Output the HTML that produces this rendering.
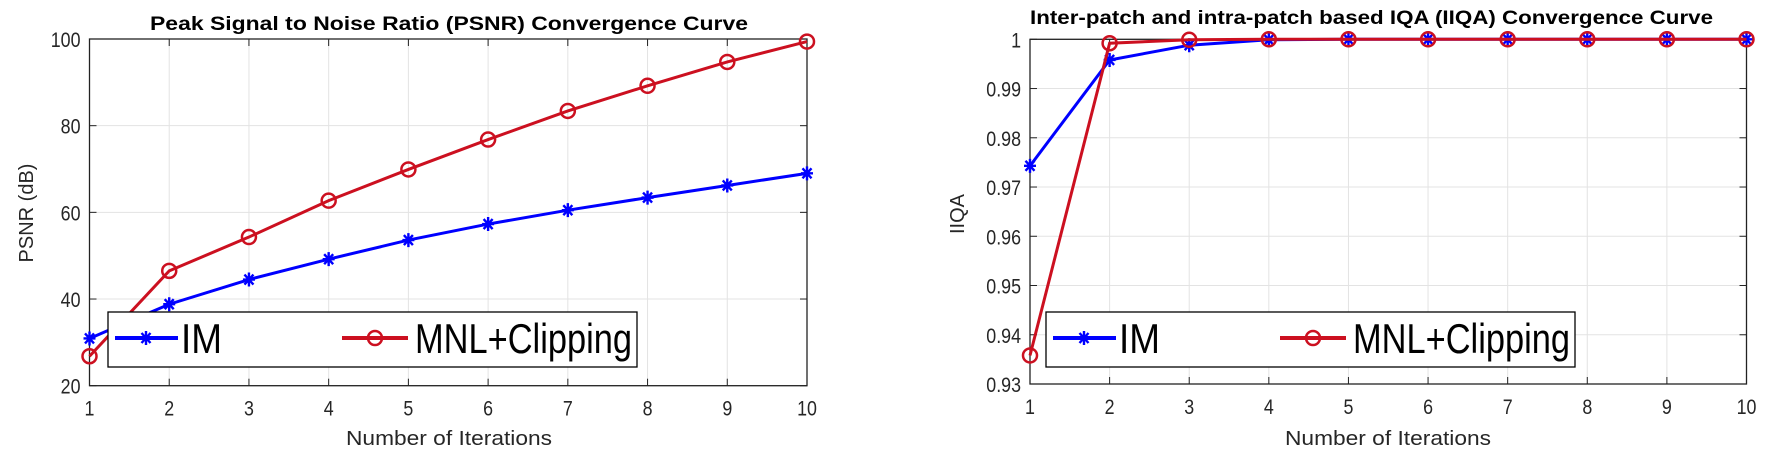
<!DOCTYPE html>
<html><head><meta charset="utf-8"><style>
html,body{margin:0;padding:0;background:#fff;}
svg{display:block;font-family:"Liberation Sans",Arial,sans-serif;}
</style></head><body>
<svg id="fig" width="1778" height="464" viewBox="0 0 1778 464"></svg>
<script>
const iterations = [1,2,3,4,5,6,7,8,9,10];
const psnrIM = [30.9,38.8,44.5,49.2,53.6,57.3,60.5,63.4,66.2,69.0];
const psnrMNL = [26.8,46.5,54.3,62.7,69.9,76.8,83.4,89.2,94.7,99.4];
const psnrTicks = [20,40,60,80,100];
const iiqaIM = [0.9743,0.9958,0.9988,0.9999,1,1,1,1,1,1];
const iiqaMNL = [0.9358,0.9992,0.9999,1,1,1,1,1,1,1];
const iiqaTicks = [0.93,0.94,0.95,0.96,0.97,0.98,0.99,1];
const iiqaTickLabels = ["0.93","0.94","0.95","0.96","0.97","0.98","0.99","1"];
const seriesNames = ["IM","MNL+Clipping"];

const NS="http://www.w3.org/2000/svg";
const svg=document.getElementById('fig');
function mk(tag,attrs,parent){const e=document.createElementNS(NS,tag);for(const k in attrs)e.setAttribute(k,attrs[k]);(parent||svg).appendChild(e);return e;}

function drawChart(c){
  const g=mk('g',{});
  
  
  const sx=v=>c.x0+(v-1)/9*(c.x1-c.x0);
  const sy=v=>c.y1-(v-c.ymin)/(c.ymax-c.ymin)*(c.y1-c.y0);
  iterations.forEach(v=>{const l=mk('line',{x1:sx(v),x2:sx(v),y1:c.y0,y2:c.y1,stroke:'#e3e3e3','stroke-width':1},g);
    
    });
  c.ticks.forEach(v=>{const l=mk('line',{x1:c.x0,x2:c.x1,y1:sy(v),y2:sy(v),stroke:'#e3e3e3','stroke-width':1},g);
    
    });
  iterations.forEach(v=>{
    mk('line',{x1:sx(v),x2:sx(v),y1:c.y1,y2:c.y1-7,stroke:'#222'},g);
    mk('line',{x1:sx(v),x2:sx(v),y1:c.y0,y2:c.y0+7,stroke:'#222'},g);
    const t=mk('text',{x:0,y:0,'text-anchor':'middle','font-size':21,fill:'#262626',transform:`translate(${sx(v)},${c.y1+30}) scale(0.85,1)`},g);
    t.textContent=v;
    
    
  });
  c.ticks.forEach((v,i)=>{
    mk('line',{x1:c.x0,x2:c.x0+7,y1:sy(v),y2:sy(v),stroke:'#222'},g);
    mk('line',{x1:c.x1,x2:c.x1-7,y1:sy(v),y2:sy(v),stroke:'#222'},g);
    const t=mk('text',{x:0,y:0,'text-anchor':'end','font-size':21,fill:'#262626',transform:`translate(${c.x0-9},${sy(v)+8}) scale(0.85,1)`},g);
    t.textContent=c.labels[i];
    
    
  });
  const box=mk('rect',{x:c.x0,y:c.y0,width:c.x1-c.x0,height:c.y1-c.y0,fill:'none',stroke:'#222','stroke-width':1.3},g);
  
  
  const tt=mk('text',{x:c.tx,y:c.ty,'font-size':19,'font-weight':'bold',fill:'#000',textLength:c.tw,lengthAdjust:'spacingAndGlyphs'},g);
  tt.textContent=c.title;
  
  
  const xl=mk('text',{x:c.xlx,y:445,'font-size':20,fill:'#262626',textLength:206,lengthAdjust:'spacingAndGlyphs'},g);
  xl.textContent='Number of Iterations';
  
  
  const yl=mk('text',{x:0,y:0,'font-size':20,fill:'#262626','text-anchor':'middle',transform:`translate(${c.ylx},${c.yly}) rotate(-90)`},g);
  yl.textContent=c.ytitle;
  
  
  const ptsR=iterations.map((v,i)=>sx(v)+','+sy(c.red[i])).join(' ');
  const ptsB=iterations.map((v,i)=>sx(v)+','+sy(c.blue[i])).join(' ');
  const lb=mk('polyline',{points:ptsB,fill:'none',stroke:'#0000ff','stroke-width':3},g);
  
  
  iterations.forEach((v,i)=>{star(g,sx(v),sy(c.blue[i]));});
  const lr=mk('polyline',{points:ptsR,fill:'none',stroke:'#cc1020','stroke-width':3},g);
  
  
  iterations.forEach((v,i)=>{const m=mk('circle',{cx:sx(v),cy:sy(c.red[i]),r:7,fill:'none',stroke:'#cc1020','stroke-width':2.5},g);
    
    });
  const lg=mk('g',{},g);
  
  
  const L=c.lx;
  mk('rect',{x:L,y:312,width:529,height:55,fill:'#fff',stroke:'#000','stroke-width':1.3},lg);
  mk('line',{x1:L+7,x2:L+70,y1:338,y2:338,stroke:'#0000ff','stroke-width':4},lg);
  star(lg,L+38,338);
  const t1=mk('text',{x:L+73,y:353,'font-size':42,fill:'#000',textLength:41,lengthAdjust:'spacingAndGlyphs'},lg);
  t1.textContent=seriesNames[0];
  
  
  mk('line',{x1:L+234,x2:L+300,y1:338,y2:338,stroke:'#cc1020','stroke-width':4},lg);
  mk('circle',{cx:L+267,cy:338,r:7,fill:'none',stroke:'#cc1020','stroke-width':2.5},lg);
  const t2=mk('text',{x:L+307,y:353,'font-size':42,fill:'#000',textLength:217,lengthAdjust:'spacingAndGlyphs'},lg);
  t2.textContent=seriesNames[1];
  
  
}
function star(p,x,y){
  const s=mk('path',{d:`M${x-6},${y}H${x+6}M${x},${y-7}V${y+7}M${x-4.5},${y-5}L${x+4.5},${y+5}M${x-4.5},${y+5}L${x+4.5},${y-5}`,stroke:'#0000ff','stroke-width':2.4},p);
  
  
}
drawChart({name:'psnr-chart',x0:89.5,x1:807,y0:39,y1:385.7,ymin:20,ymax:100,ticks:psnrTicks,labels:psnrTicks.map(String),
  red:psnrMNL,blue:psnrIM,title:'Peak Signal to Noise Ratio (PSNR) Convergence Curve',tx:150,ty:30,tw:598,
  xlx:346,ylx:33,yly:213,ytitle:'PSNR (dB)',lx:108});
drawChart({name:'iiqa-chart',x0:1030,x1:1746.5,y0:39.3,y1:384,ymin:0.93,ymax:1,ticks:iiqaTicks,labels:iiqaTickLabels,
  red:iiqaMNL,blue:iiqaIM,title:'Inter-patch and intra-patch based IQA (IIQA) Convergence Curve',tx:1030,ty:24,tw:683,
  xlx:1285,ylx:964,yly:214,ytitle:'IIQA',lx:1046});
</script>
</body></html>
